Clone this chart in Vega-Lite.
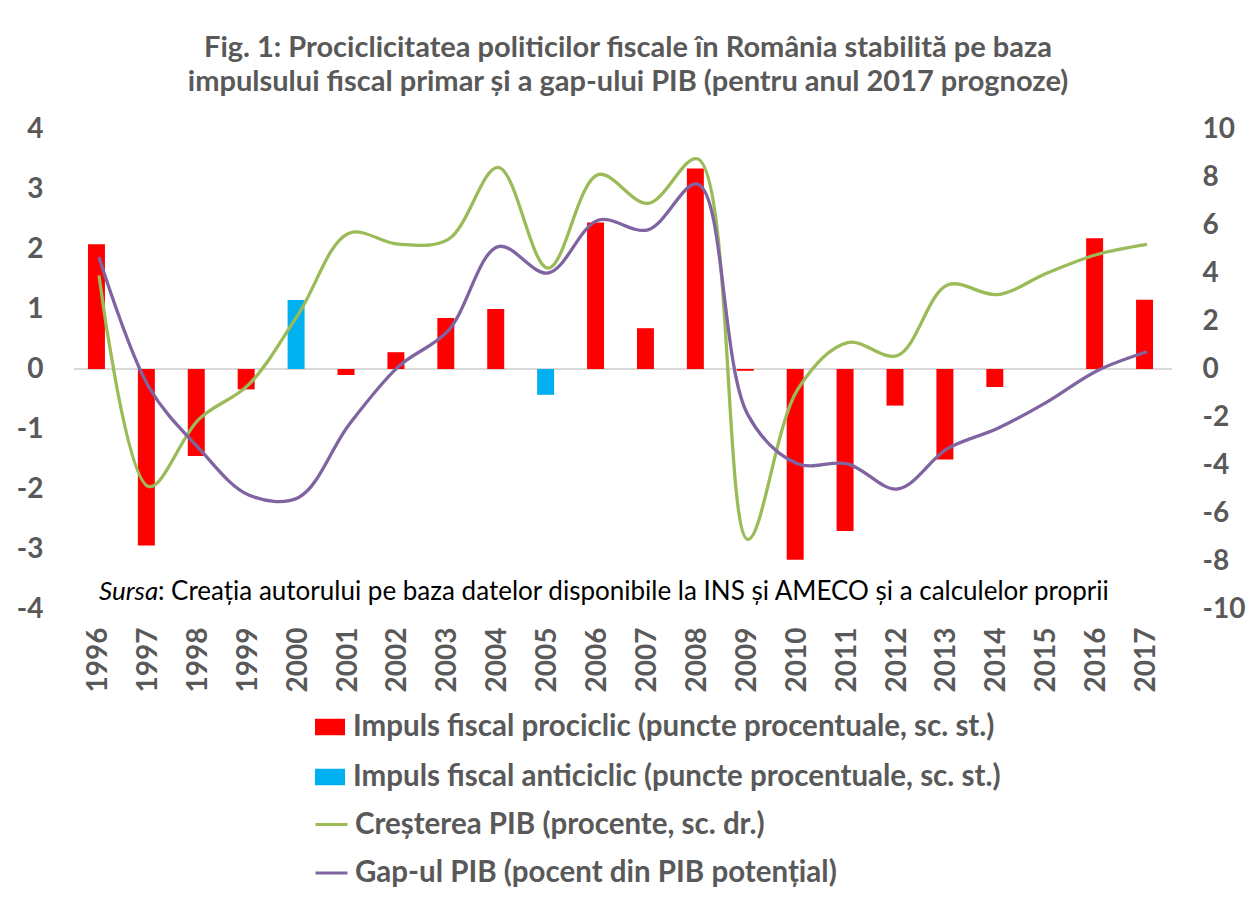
{
  "$schema": "https://vega.github.io/schema/vega-lite/v6.json",
  "width": 1098,
  "height": 480,
  "autosize": "none",
  "padding": {"left": 74, "top": 129, "right": 78, "bottom": 289},
  "background": "white",
  "config": {
    "font": "Lato",
    "view": {"stroke": null},
    "axis": {"grid": false, "domain": false, "ticks": false, "labelColor": "#595959", "labelFontWeight": "bold", "labelFontSize": 28, "title": null}
  },
  "title": {
    "text": ["Fig. 1: Prociclicitatea politicilor fiscale în România stabilită pe baza", "impulsului fiscal primar și a gap-ului PIB (pentru anul 2017 prognoze)"],
    "fontSize": 29,
    "fontWeight": "bold",
    "color": "#595959",
    "anchor": "middle",
    "offset": 18,
    "lineHeight": 34,
    "dx": 5
  },
  "datasets": {
    "d": [
      {"year": "1996", "impuls": 2.08, "tip": "prociclic", "crestere": 3.9, "gap": 4.67},
      {"year": "1997", "impuls": -2.94, "tip": "prociclic", "crestere": -4.9, "gap": -0.75},
      {"year": "1998", "impuls": -1.45, "tip": "prociclic", "crestere": -2.1, "gap": -3.3},
      {"year": "1999", "impuls": -0.34, "tip": "prociclic", "crestere": -0.65, "gap": -5.25},
      {"year": "2000", "impuls": 1.15, "tip": "anticiclic", "crestere": 2.3, "gap": -5.35},
      {"year": "2001", "impuls": -0.1, "tip": "prociclic", "crestere": 5.65, "gap": -2.35},
      {"year": "2002", "impuls": 0.28, "tip": "prociclic", "crestere": 5.2, "gap": 0.1},
      {"year": "2003", "impuls": 0.85, "tip": "prociclic", "crestere": 5.4, "gap": 1.6},
      {"year": "2004", "impuls": 1.0, "tip": "prociclic", "crestere": 8.4, "gap": 5.1},
      {"year": "2005", "impuls": -0.43, "tip": "anticiclic", "crestere": 4.2, "gap": 4.0},
      {"year": "2006", "impuls": 2.44, "tip": "prociclic", "crestere": 8.1, "gap": 6.2},
      {"year": "2007", "impuls": 0.68, "tip": "prociclic", "crestere": 6.9, "gap": 5.8},
      {"year": "2008", "impuls": 3.34, "tip": "prociclic", "crestere": 8.75, "gap": 7.7},
      {"year": "2009", "impuls": -0.03, "tip": "prociclic", "crestere": -7.1, "gap": -1.9},
      {"year": "2010", "impuls": -3.18, "tip": "prociclic", "crestere": -0.85, "gap": -3.95},
      {"year": "2011", "impuls": -2.7, "tip": "prociclic", "crestere": 1.1, "gap": -3.95},
      {"year": "2012", "impuls": -0.61, "tip": "prociclic", "crestere": 0.56, "gap": -5.0},
      {"year": "2013", "impuls": -1.51, "tip": "prociclic", "crestere": 3.5, "gap": -3.32},
      {"year": "2014", "impuls": -0.3, "tip": "prociclic", "crestere": 3.1, "gap": -2.48},
      {"year": "2015", "impuls": null, "tip": "prociclic", "crestere": 4.0, "gap": -1.37},
      {"year": "2016", "impuls": 2.18, "tip": "prociclic", "crestere": 4.77, "gap": -0.07},
      {"year": "2017", "impuls": 1.155, "tip": "prociclic", "crestere": 5.19, "gap": 0.72}
    ]
  },
  "layer": [
    {
      "layer": [
        {
          "data": {"name": "d"},
          "mark": {"type": "rule", "color": "#d9d9d9", "strokeWidth": 2},
          "encoding": {"y": {"datum": 0, "type": "quantitative"}}
        },
        {
          "data": {"name": "d"},
          "mark": {"type": "bar", "width": {"band": 0.34}, "xOffset": -2.5},
          "transform": [{"filter": "datum.impuls != null"}],
          "encoding": {
            "x": {"field": "year", "type": "ordinal", "scale": {"paddingInner": 0, "paddingOuter": 0}, "axis": {"labelAngle": -90, "labelPadding": 18, "title": null}},
            "y": {"field": "impuls", "type": "quantitative", "scale": {"domain": [-4, 4], "nice": false}, "axis": {"values": [-4, -3, -2, -1, 0, 1, 2, 3, 4], "labelAlign": "right", "labelPadding": 31, "labelExpr": "(datum.value < 0 ? '-' : '') + abs(datum.value)", "title": null}},
            "color": {"field": "tip", "type": "nominal", "scale": {"domain": ["prociclic", "anticiclic"], "range": ["#FF0000", "#00B0F0"]},
              "legend": {"orient": "none", "legendX": 240, "legendY": 582, "title": null, "padding": 0, "symbolType": "M-1,-0.55H1V0.55H-1Z", "symbolSize": 900, "symbolOpacity": 1, "labelFontSize": 29.5, "labelFontWeight": "bold", "labelColor": "#595959", "labelOffset": 7, "rowPadding": 19, "labelLimit": 1000,
                "labelExpr": "datum.value == 'prociclic' ? 'Impuls fiscal prociclic (puncte procentuale, sc. st.)' : 'Impuls fiscal anticiclic (puncte procentuale, sc. st.)'"}}
          }
        },
        {
          "data": {"values": [{"t": "Sursa"}]},
          "mark": {"type": "text", "align": "left", "baseline": "middle", "fontSize": 26, "fontStyle": "italic", "color": "#000000"},
          "encoding": {"x": {"datum": "1996", "type": "ordinal"}, "y": {"datum": -3.72, "type": "quantitative"}, "text": {"field": "t"}}
        },
        {
          "data": {"values": [{"t": ": Creația autorului pe baza datelor disponibile la INS și AMECO și a calculelor proprii"}]},
          "mark": {"type": "text", "align": "left", "baseline": "middle", "fontSize": 26, "dx": 59, "color": "#000000"},
          "encoding": {"x": {"datum": "1996", "type": "ordinal"}, "y": {"datum": -3.72, "type": "quantitative"}, "text": {"field": "t"}}
        }
      ]
    },
    {
      "data": {"name": "d"},
      "transform": [{"fold": ["crestere", "gap"], "as": ["serie", "valoare"]}],
      "mark": {"type": "line", "interpolate": "catmull-rom", "strokeWidth": 3.3},
      "encoding": {
        "x": {"field": "year", "type": "ordinal"},
        "y": {"field": "valoare", "type": "quantitative", "scale": {"domain": [-10, 10], "nice": false},
          "axis": {"orient": "right", "values": [-10, -8, -6, -4, -2, 0, 2, 4, 6, 8, 10], "labelAlign": "left", "labelPadding": 30, "labelExpr": "(datum.value < 0 ? '-' : '') + abs(datum.value)", "encode": {"labels": {"update": {"dx": {"signal": "datum.value < 0 ? -26 : 0"}}}}, "title": null}},
        "stroke": {"field": "serie", "type": "nominal", "scale": {"domain": ["crestere", "gap"], "range": ["#9BBB59", "#8064A2"]},
          "legend": {"orient": "none", "legendX": 240, "legendY": 678, "title": null, "padding": 0, "symbolType": "stroke", "symbolSize": 1024, "symbolStrokeWidth": 3, "labelFontSize": 29.5, "labelFontWeight": "bold", "labelColor": "#595959", "labelOffset": 6, "rowPadding": 16.5, "labelLimit": 1000,
            "labelExpr": "datum.value == 'crestere' ? 'Creșterea PIB (procente, sc. dr.)' : 'Gap-ul PIB (pocent din PIB potențial)'"}}
      }
    }
  ],
  "resolve": {"scale": {"y": "independent"}}
}
